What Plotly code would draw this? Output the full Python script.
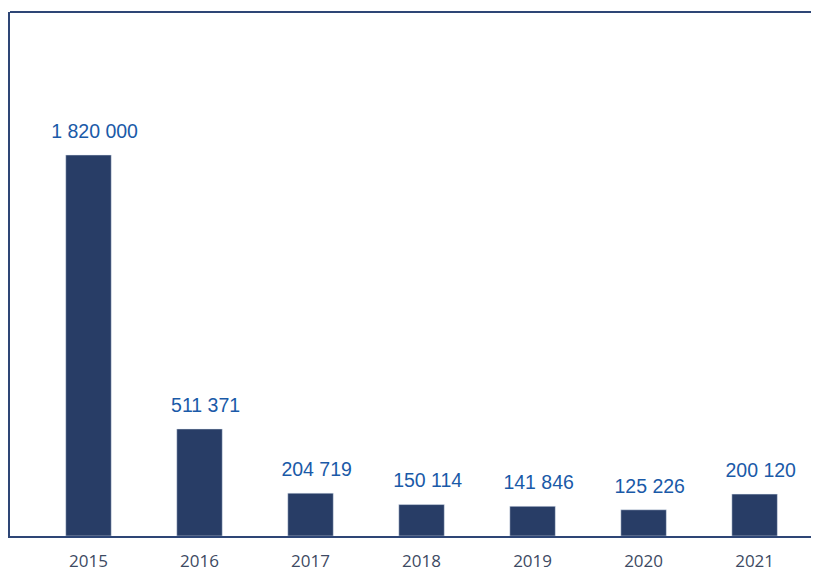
import plotly.graph_objects as go

years = ["2015", "2016", "2017", "2018", "2019", "2020", "2021"]
values = [1820000, 511371, 204719, 150114, 141846, 125226, 200120]
labels = ["1 820 000", "511 371", "204 719", "150 114", "141 846", "125 226", "200 120"]

bar_color = "#283d66"
line_color = "#2e4676"
x_range = [-0.707, 6.58]

fig = go.Figure()
fig.add_trace(go.Bar(
    x=years, y=values, marker_color=bar_color, width=0.41,
    hoverinfo="skip",
))

# value labels (on a twin linear axis to allow a slight rightward offset)
idx = list(range(len(years)))
fig.add_trace(go.Scatter(
    x=[i + 0.055 for i in idx], y=values, text=labels, mode="markers+text",
    textposition="top center", xaxis="x2",
    marker=dict(size=18, opacity=0),
    textfont=dict(family="Liberation Sans, Arial", size=19.5, color="#1a5aa8"),
    hoverinfo="skip", cliponaxis=False,
))

fig.add_shape(type="line", xref="paper", yref="paper", x0=0, x1=1, y0=1, y1=1,
              line=dict(color=line_color, width=2))

fig.update_layout(
    width=811, height=560,
    margin=dict(l=2, r=0, t=4, b=32, autoexpand=False),
    plot_bgcolor="white", paper_bgcolor="white",
    showlegend=False,
    xaxis=dict(
        type="category", automargin=False,
        range=x_range, showline=True, linecolor=line_color, linewidth=2,
        showgrid=False, ticks="outside", ticklen=9, tickcolor="rgba(0,0,0,0)",
        tickfont=dict(family="Open Sans", size=17, color="#3d4a63"),
        fixedrange=True,
    ),
    xaxis2=dict(
        type="linear", range=x_range, overlaying="x", visible=False,
        showgrid=False, zeroline=False, automargin=False,
    ),
    yaxis=dict(
        range=[0, 2503000], showline=True, linecolor=line_color, linewidth=2,
        showgrid=False, showticklabels=False, ticks="", zeroline=False,
        automargin=False,
    ),
)

fig.write_html("out.html")
